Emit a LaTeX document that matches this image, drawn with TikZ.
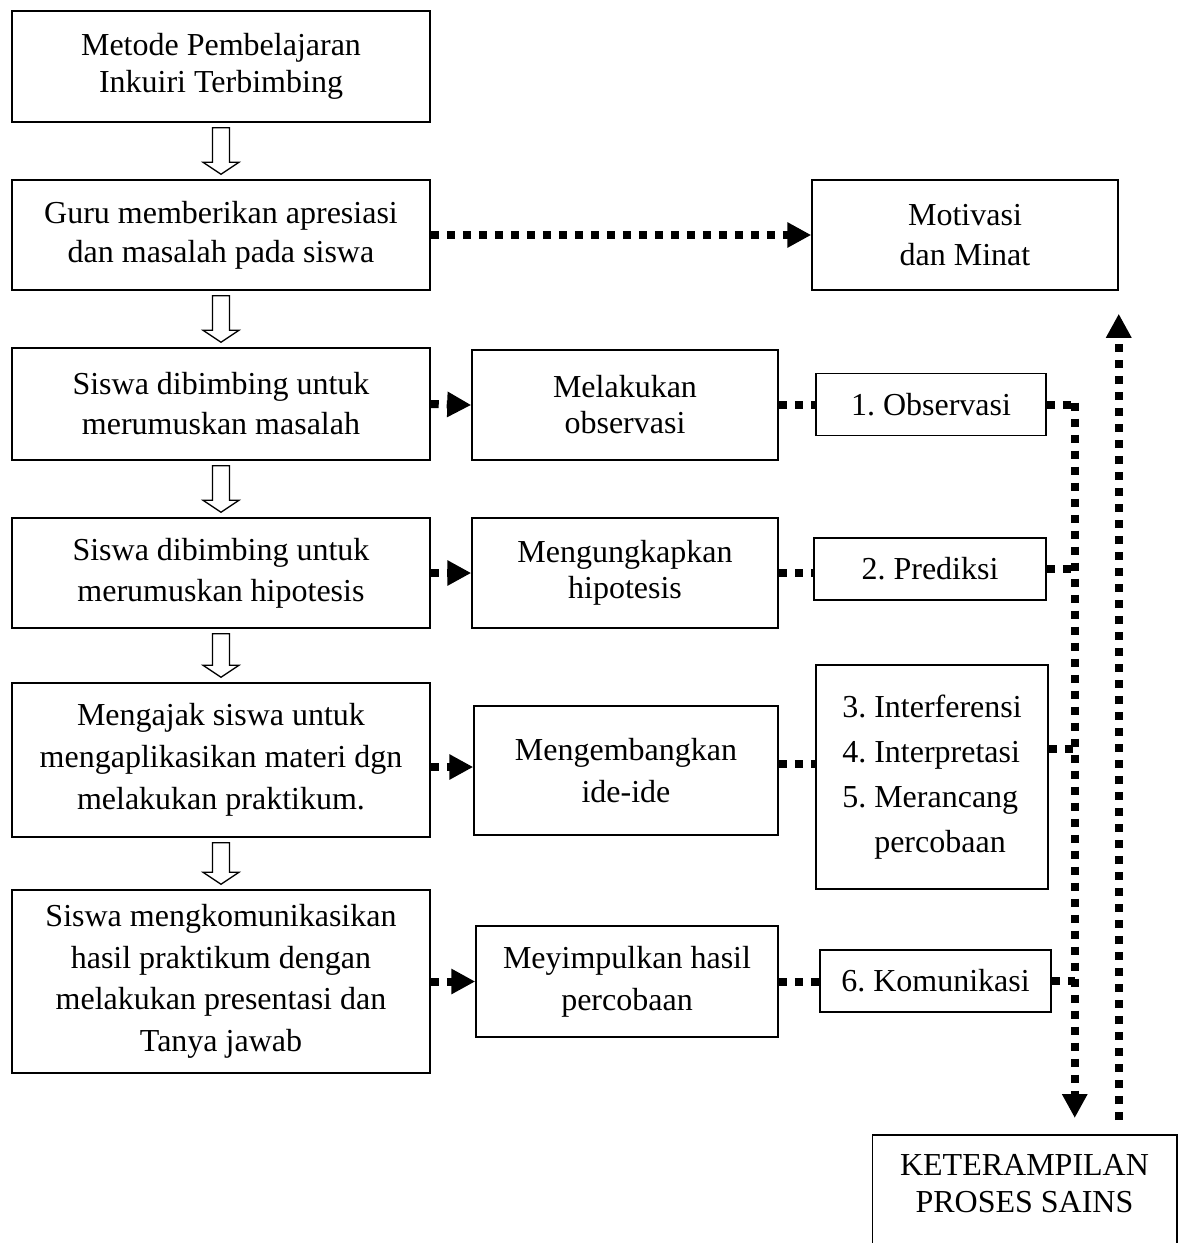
\documentclass[tikz,border=0pt]{standalone}
\usepackage{fontspec}
\setmainfont{Liberation Serif}
\frenchspacing
\usetikzlibrary{arrows.meta,calc}
\tikzset{
  box/.style={draw, line width=1.5pt, align=center, inner sep=0pt, font=\fontsize{32}{40}\selectfont},
  dots/.style={line width=8pt, dash pattern=on 8pt off 8pt},
  tip/.style={-{Triangle[length=24pt,width=24pt]}},
  hol/.style={draw, line width=1.3pt, fill=white, line join=miter},
}
% hollow block arrow from the bottom of #1 to the top of #2
\newcommand\harrow[2]{%
  \draw[hol] ($(#1.south)+(-8.5,5)$) -- ($(#2.north)+(-8.5,-17)$) -- ($(#2.north)+(-18,-17)$)
    -- ($(#2.north)+(0,-5)$) -- ($(#2.north)+(18,-17)$) -- ($(#2.north)+(8.5,-17)$)
    -- ($(#1.south)+(8.5,5)$) -- cycle;}
\begin{document}
\begin{tikzpicture}[x=1pt,y=-1pt]
\useasboundingbox (0,0) rectangle (1182,1243);
% left column
\node[box, minimum width=418, minimum height=111, font=\fontsize{32}{37}\selectfont] (A) at (221,66.5) {Metode Pembelajaran\\Inkuiri Terbimbing};
\node[box, minimum width=418, minimum height=110, font=\fontsize{32}{39}\selectfont] (B) at (221,235) {Guru memberikan apresiasi\\dan masalah pada siswa};
\node[box, minimum width=418, minimum height=112] (C) at (221,404) {Siswa dibimbing untuk\\merumuskan masalah};
\node[box, minimum width=418, minimum height=110, font=\fontsize{32}{41}\selectfont] (D) at (221,573) {Siswa dibimbing untuk\\merumuskan hipotesis};
\node[box, minimum width=418, minimum height=154, font=\fontsize{32}{42}\selectfont] (E) at (221,760) {Mengajak siswa untuk\\mengaplikasikan materi dgn\\melakukan praktikum.};
\node[box, minimum width=418, minimum height=183, font=\fontsize{32}{41.5}\selectfont] (F) at (221,981.5) {Siswa mengkomunikasikan\\hasil praktikum dengan\\melakukan presentasi dan\\Tanya jawab};
% middle column
\node[box, minimum width=306, minimum height=110] (M) at (965,235) {Motivasi\\dan Minat};
\node[box, minimum width=306, minimum height=110, font=\fontsize{32}{36}\selectfont] (O) at (625,405) {Melakukan\\observasi};
\node[box, minimum width=306, minimum height=110, font=\fontsize{32}{36}\selectfont] (H) at (625,573) {Mengungkapkan\\hipotesis};
\node[box, minimum width=304, minimum height=129, font=\fontsize{32}{42}\selectfont] (I) at (626,770.5) {Mengembangkan\\ide-ide};
\node[box, minimum width=302, minimum height=111, font=\fontsize{32}{42}\selectfont] (S) at (627,981.5) {Meyimpulkan hasil\\percobaan};
% right column
\node[box, minimum width=230, minimum height=62] (R1) at (931,404.5) {1. Observasi};
\node[box, minimum width=232, minimum height=62] (R2) at (930,569) {2. Prediksi};
\node[box, minimum width=232, minimum height=224, align=left, font=\fontsize{32}{45}\selectfont] (R3) at (932,777) {3. Interferensi\\4. Interpretasi\\5. Merancang\\\hphantom{5. }percobaan};
\node[box, minimum width=231, minimum height=62] (R4) at (935.5,981) {6. Komunikasi};
% bottom box (open at the page edge)
\node[box, draw=none, minimum width=303, minimum height=96, font=\fontsize{32}{37}\selectfont, anchor=north] (K) at (1024.5,1135) {KETERAMPILAN\\PROSES SAINS};
\draw[line width=1.5pt] ($(K.south west)+(0,40)$) -- (K.north west) -- (K.north east) -- ($(K.south east)+(0,40)$);
% hollow arrows
\harrow{A}{B}
\harrow{B}{C}
\harrow{C}{D}
\harrow{D}{E}
\harrow{E}{F}
% dotted connectors
\draw[dots,tip] (B.east) -- (M.west);
\draw[dots,tip] (C.east) -- (O.west);
\draw[dots] (O.east) -- (O.east -| R1.west);
\draw[dots,tip] (D.east) -- (H.west);
\draw[dots] (H.east) -- (H.east -| R2.west);
\coordinate (e1) at ($(E.east)+(0,7)$);
\draw[dots,tip] (e1) -- (e1 -| I.west);
\coordinate (i1) at ($(I.east)+(0,-6.5)$);
\draw[dots] (i1) -- (i1 -| R3.west);
\draw[dots,tip] (F.east |- S.west) -- (S.west);
\draw[dots] (S.east) -- (S.east -| R4.west);
% collector line down to K
\coordinate (v1) at ($(R1.east)+(28,-2)$);
\coordinate (v2) at ($(K.north -| v1)+(0,-17)$);
\coordinate (r3) at ($(R3.east)+(0,-28)$);
\draw[dots] (R1.east) -- (R1.east -| v1);
\draw[dots] (R2.east) -- (R2.east -| v1);
\draw[dots] (r3) -- (r3 -| v1);
\draw[dots] (R4.east) -- (R4.east -| v1);
\draw[dots,tip] (v1) -- (v2);
% line up from K to Motivasi
\coordinate (u1) at ($(K.north -| M.east)+(0,-15)$);
\coordinate (u2) at ($(M.south east)+(0,23)$);
\draw[dots,tip] (u1) -- (u2);
\end{tikzpicture}
\end{document}
